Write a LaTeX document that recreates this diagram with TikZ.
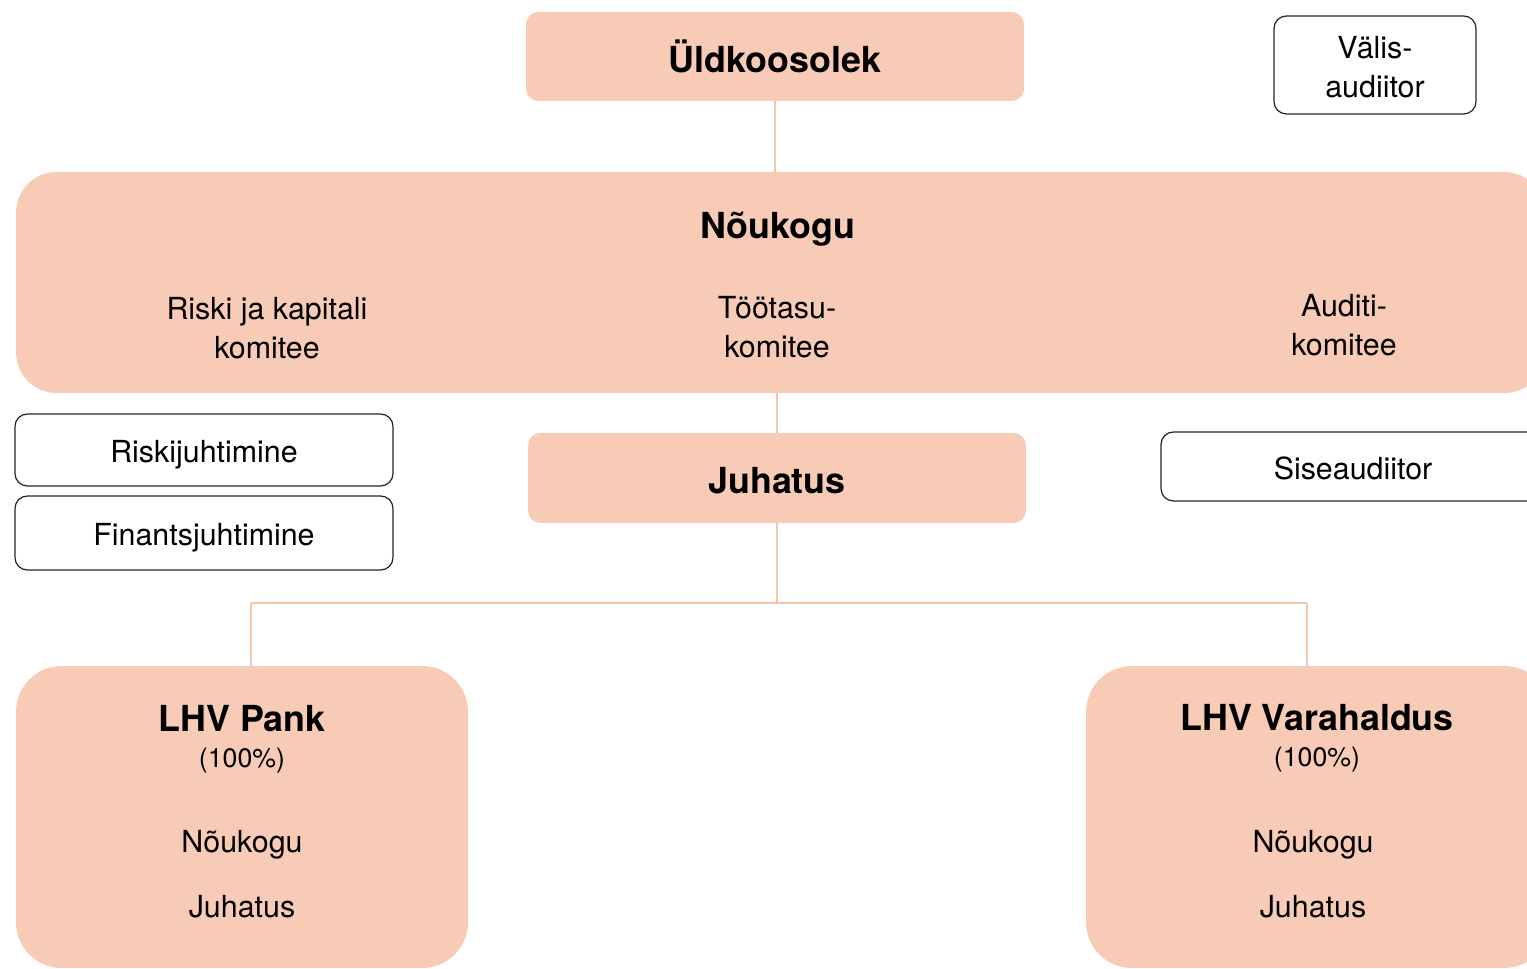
\documentclass[tikz,border=0pt]{standalone}
\usepackage{fontspec}
\setmainfont{TeX Gyre Heros}
\usetikzlibrary{positioning}
\definecolor{peach}{HTML}{F7CBB5}
\definecolor{peachline}{HTML}{F5C3AA}

\begin{document}
\begin{tikzpicture}[x=0.02cm,y=-0.02cm]
    \tikzstyle{peachbox}=[fill=peach,draw=none,inner sep=0pt]
    \tikzstyle{whitebox}=[draw=black!85,line width=0.7pt,rounded corners=7pt,inner sep=0pt,
      font=\fontsize{17.3}{22}\selectfont]
    \tikzstyle{oneline}=[text height=14.6pt,text depth=0pt]
    \tikzstyle{title}=[inner sep=0pt,font=\fontsize{20.4}{24}\selectfont\bfseries]
    \tikzstyle{label}=[inner sep=0pt,align=center,font=\fontsize{17.3}{22.3}\selectfont]
    \tikzstyle{link}=[draw=peachline,line width=1.2pt]
    \useasboundingbox (0,0) rectangle (1527,969);
    \clip (0,0) rectangle (1527,969);
    % top level
    \node[peachbox,rounded corners=7pt,minimum width=9.96cm,minimum height=1.78cm] (uld) at (775,56.5) {};
    \node[title] (uld_t) at (775,56) {Üldkoosolek};
    \node[whitebox,minimum width=4.04cm,minimum height=1.96cm,align=center] (valis) at (1375,65) {};
    \node[label] (valis_t) at (1375,67) {Välis-\\audiitor};
    % council
    \node[peachbox,rounded corners=23pt,minimum width=30.58cm,minimum height=4.42cm] (nou) at (780.5,282.5) {};
    \node[title] (nou_t) at (778,229) {Nõukogu};
    \node[label] (riski) at (267,328) {Riski ja kapitali\\komitee};
    \node[label] (tootasu) at (777,327) {Töötasu-\\komitee};
    \node[label] (auditi) at (1344,325) {Auditi-\\komitee};
    % management
    \node[whitebox,oneline,minimum width=7.56cm,minimum height=1.44cm] (riskij) at (204,450) {Riskijuhtimine};
    \node[whitebox,oneline,minimum width=7.56cm,minimum height=1.48cm] (finj) at (204,533) {Finantsjuhtimine};
    \node[peachbox,rounded corners=7pt,minimum width=9.96cm,minimum height=1.8cm] (juh) at (777,478) {};
    \node[title] (juh_t) at (777,481) {Juhatus};
    \node[whitebox,oneline,minimum width=7.68cm,minimum height=1.38cm] (sise) at (1353,466.5) {Siseaudiitor};
    % subsidiaries
    \node[peachbox,rounded corners=26pt,minimum width=9.04cm,minimum height=6.04cm] (pank) at (242,817) {};
    \node[title] (pank_t) at (242,719) {LHV Pank};
    \node[label,font=\fontsize{15.2}{18}\selectfont] (pank_p) at (242,761) {(100\%)};
    \node[label] (pank_n) at (242,845) {Nõukogu};
    \node[label] (pank_j) at (242,907) {Juhatus};
    \node[peachbox,rounded corners=26pt,minimum width=9.28cm,minimum height=6.04cm] (vara) at (1318,817) {};
    \node[title] (vara_t) at (1317,718) {LHV Varahaldus};
    \node[label,font=\fontsize{15.2}{18}\selectfont] (vara_p) at (1317,760) {(100\%)};
    \node[label] (vara_n) at (1313,845) {Nõukogu};
    \node[label] (vara_j) at (1313,907) {Juhatus};
    % connectors
    \coordinate (split) at (777,603);
    \coordinate (bl) at (251,603);
    \coordinate (br) at (1307,603);
    \draw[link] (uld.south) -- (uld.south |- nou.north);
    \draw[link] (juh.north |- nou.south) -- (juh.north);
    \draw[link] (juh.south) -- (split);
    \draw[link] (bl) -- (br);
    \draw[link] (bl) -- (bl |- pank.north);
    \draw[link] (br) -- (br |- vara.north);
\end{tikzpicture}
\end{document}
